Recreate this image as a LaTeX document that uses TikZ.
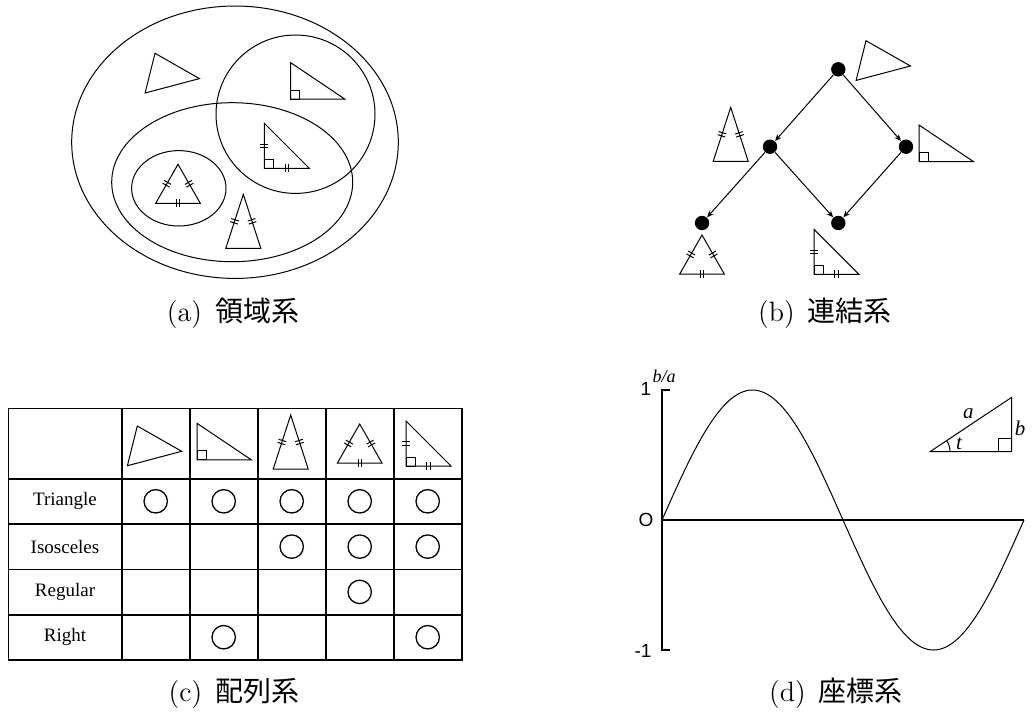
\documentclass[tikz,border=0pt]{standalone}
\usepackage{fontspec}
\newfontfamily\cjk{Noto Sans CJK JP}
\newfontfamily\tabfont{Liberation Serif}
\newfontfamily\axfont{Liberation Sans}
\usepackage{tikz}
\usetikzlibrary{arrows.meta, calc}

% doppio trattino al centro del lato #1--#2
\newcommand\dtick[2]{%
  \coordinate (tm) at ($(#1)!.5!(#2)$);
  \foreach \s in {-.8pt,.8pt}{
    \coordinate (tp) at ($(tm)!\s!(#2)$);
    \draw ($(tp)!2pt!90:(#2)$) -- ($(tp)!2pt!-90:(#2)$);
  }}

\begin{document}
\begin{tikzpicture}[
        x=0.5pt, y=-0.5pt,        % coordinate in pixel, y verso il basso
        line width=0.5pt,         % Linee sottili
        >={Stealth[length=3.3pt,width=2.8pt]}, % Punta freccia piccola
        vertex/.style={           % Punti del diagramma (b)
            circle,
            fill=black,
            inner sep=0pt,
            minimum size=7.2pt
        },
        yesring/.style={          % Cerchi della tabella (c)
            circle,
            draw,
            line width=0.65pt,
            inner sep=0pt,
            minimum size=11.7pt
        },
        grid line/.style={line width=0.8pt},
        axis line/.style={line width=0.9pt},
        rowlab/.style={font=\tabfont\fontsize{9.5}{11}\selectfont},
        numlab/.style={font=\axfont\fontsize{9.5}{11}\selectfont, inner sep=1pt},
        itlab/.style={font=\tabfont\itshape\fontsize{10.5}{12}\selectfont, inner sep=0pt},
        subcap/.style={font=\fontsize{14}{16}\selectfont},
        % --- Triangoli ---
        gentri/.pic={\draw (0,0) -- (44.4,25.3) -- (-9.9,39.7) -- cycle;},
        righttri/.pic={
            \draw (0,0) -- (0,36.5) -- (54.3,36.5) -- cycle;
            \draw (0,36.5) rectangle ++(9,-9);},
        isotri/.pic={
            \coordinate (A) at (0,0);
            \coordinate (B) at (-17.5,54);
            \coordinate (C) at (17.5,54);
            \draw (A) -- (B) -- (C) -- cycle;
            \dtick{A}{B} \dtick{A}{C}},
        equitri/.pic={
            \coordinate (A) at (0,0);
            \coordinate (B) at (-22.3,39);
            \coordinate (C) at (22.3,39);
            \draw (A) -- (B) -- (C) -- cycle;
            \dtick{A}{B} \dtick{A}{C} \dtick{B}{C}},
        risotri/.pic={
            \coordinate (A) at (0,0);
            \coordinate (B) at (0,45);
            \coordinate (C) at (45,45);
            \draw (A) -- (B) -- (C) -- cycle;
            \draw (B) rectangle ++(9,-9);
            \dtick{A}{B} \dtick{B}{C}}
    ]
    \useasboundingbox (0,0) rectangle (1032,713);

    % --- (a) Diagramma a insiemi ---

    % 1. Insiemi (ellissi)
    \draw (235,142.2) ellipse [x radius=163.3, y radius=136.2];
    \draw (295.5,114.2) ellipse [x radius=79.5, y radius=79.2];
    \draw (232.2,182.2) ellipse [x radius=120.5, y radius=79.5];
    \draw (178.8,188.3) ellipse [x radius=47.2, y radius=37.7];

    % 2. Triangoli negli insiemi
    \pic at (155,53.3) {gentri};
    \pic at (290.7,62.7) {righttri};
    \pic at (264.3,123.3) {risotri};
    \pic at (178,164.3) {equitri};
    \pic at (243.3,194.3) {isotri};

    \node[subcap] (capA) at (233,313) {(a)\hspace{6.5pt}{\cjk 領域系}};

    % --- (b) Diagramma di Hasse ---

    % 1. Punti
    \node[vertex] (tri)  at (838.3,69.3) {};
    \node[vertex] (iso)  at (770,146.7) {};
    \node[vertex] (rgt)  at (906,146.7) {};
    \node[vertex] (reg)  at (702,223) {};
    \node[vertex] (riso) at (838.3,223) {};

    % 2. Frecce
    \draw[->] (tri) -- (iso);
    \draw[->] (tri) -- (rgt);
    \draw[->] (iso) -- (reg);
    \draw[->] (iso) -- (riso);
    \draw[->] (rgt) -- (riso);

    % 3. Triangoli accanto ai punti
    \pic at (866,40.7) {gentri};
    \pic at (730.7,107.3) {isotri};
    \pic at (919,125) {righttri};
    \pic at (702,235) {equitri};
    \pic at (814,229.3) {risotri};

    \node[subcap] (capB) at (825,313) {(b)\hspace{6.5pt}{\cjk 連結系}};

    % --- (c) Tabella ---

    % 1. Griglia
    \draw[grid line] (8.3,408.3) rectangle (461.7,660);
    \foreach \x in {121.7,189.7,257.7,325.7,393.7}
        \draw[grid line] (\x,408.3) -- (\x,660);
    \foreach \y in {478.7,524,569.3,614.7}
        \draw[grid line] (8.3,\y) -- (461.7,\y);

    % 2. Intestazione con i triangoli
    \pic at (137.3,426) {gentri};
    \pic at (197,423.3) {righttri};
    \pic at (290.7,415) {isotri};
    \pic at (359.7,424) {equitri};
    \pic at (406,421) {risotri};

    % 3. Etichette delle righe
    \foreach \t [count=\i] in {Triangle,Isosceles,Regular,Right}
        \node[rowlab] (row\i) at (65,{501.3+45.3*(\i-1)}) {\t};

    % 4. Cerchi
    \foreach \c/\r in {1/1,2/1,3/1,4/1,5/1,3/2,4/2,5/2,4/3,2/4,5/4}
        \node[yesring] (o\r\c) at ({155.7+68*(\c-1)},{501.3+45.3*(\r-1)}) {};

    \node[subcap] (capC) at (234,693) {(c)\hspace{6.5pt}{\cjk 配列系}};

    % --- (d) Grafico della sinusoide ---

    % 1. Assi
    \draw[axis line] (670,390) -- (662,390) -- (662,650) -- (670,650);
    \draw[axis line] (662,520) -- (1024,520);

    % 2. Curva
    \draw plot[domain=0:360, samples=121, smooth]
        ({662+\x*1.00556},{520-130*sin(\x)});

    % 3. Etichette degli assi
    \node[numlab] (one)  at (646,389) {1};
    \node[numlab] (zero) at (646,520) {O};
    \node[numlab] (mone) at (643,651) {-1};
    \node[itlab, font=\tabfont\itshape\fontsize{9}{10}\selectfont] (ba) at (664,376) {b/a};

    % 4. Triangolo rettangolo con angolo t
    \coordinate (P) at (930,451.7);
    \coordinate (Q) at (1011.7,451.7);
    \coordinate (R) at (1011.7,397.3);
    \draw (P) -- (Q) -- (R) -- cycle;
    \draw (Q) rectangle ++(-13,-13);
    \draw ($(P)+(20,0)$) arc[start angle=0, end angle=-33.7, radius=20];
    \node[itlab] (la) at (968.3,413.3) {a};
    \node[itlab] (lb) at (1020,428.3) {b};
    \node[itlab] (lt) at (959,443.3) {t};

    \node[subcap] (capD) at (836,693) {(d)\hspace{6.5pt}{\cjk 座標系}};

\end{tikzpicture}
\end{document}
